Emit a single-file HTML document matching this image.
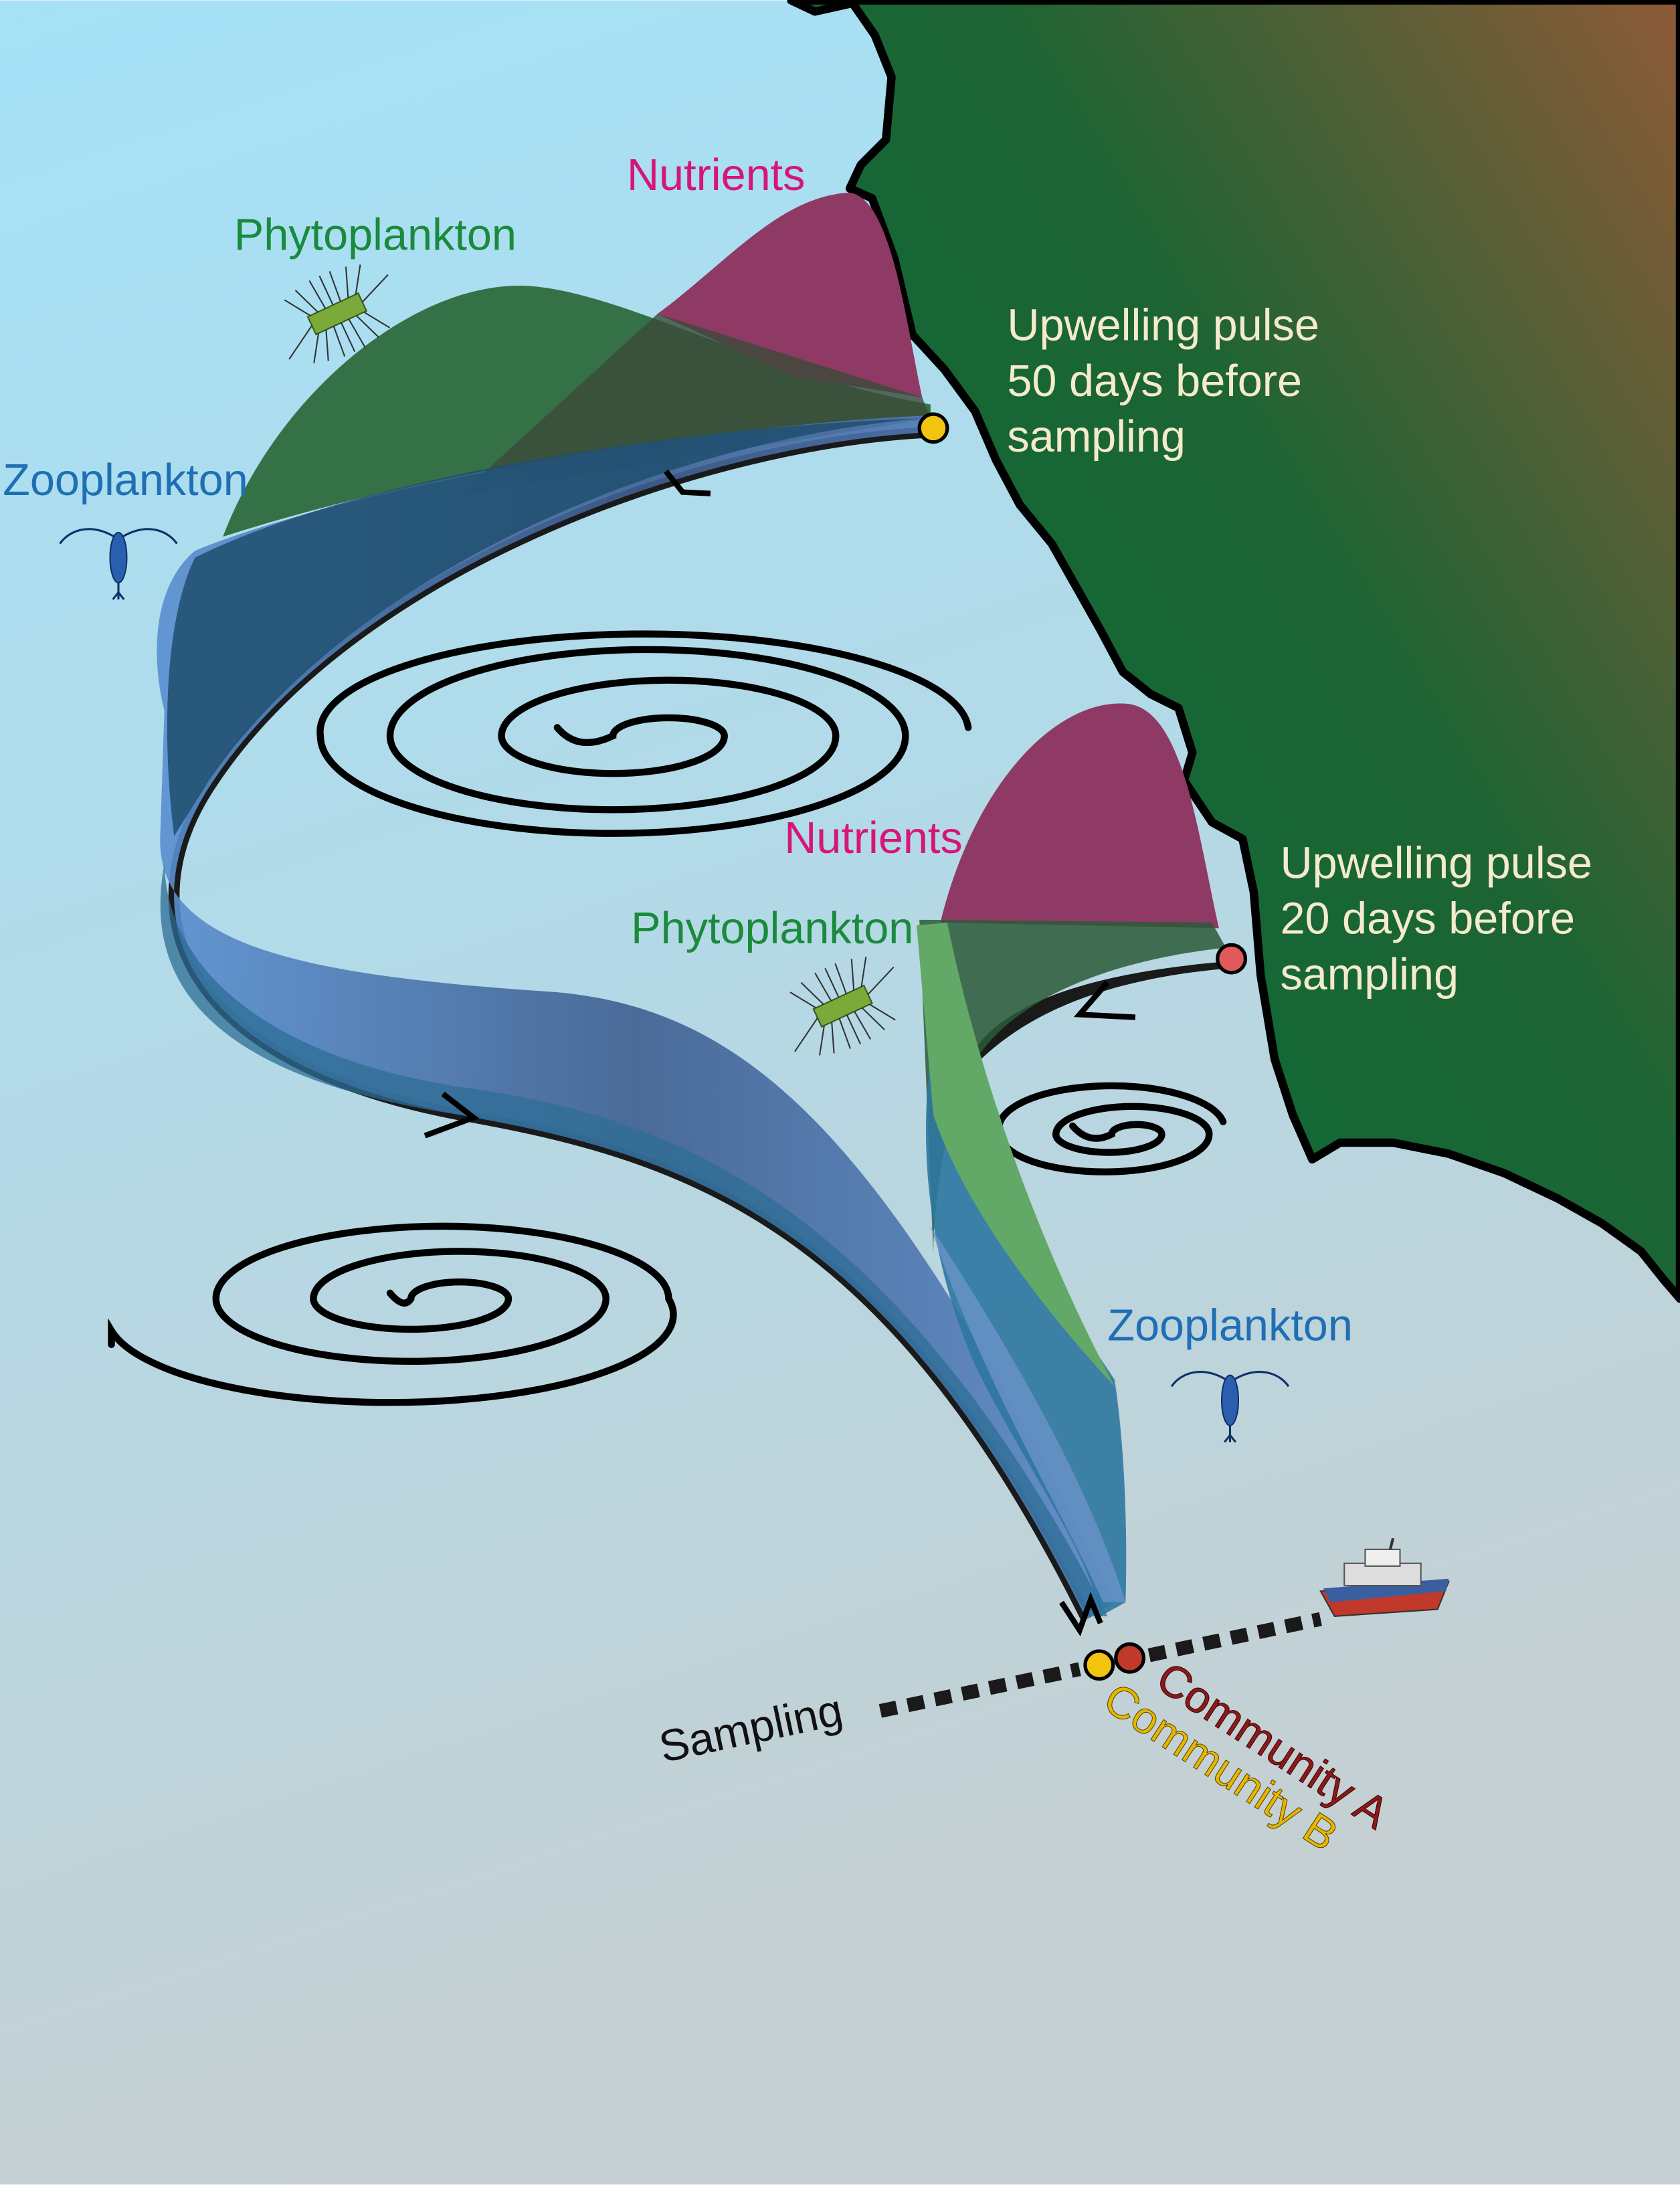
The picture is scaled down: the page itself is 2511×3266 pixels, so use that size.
<!DOCTYPE html>
<html><head><meta charset="utf-8"><style>
html,body{margin:0;padding:0;width:2511px;height:3266px;overflow:hidden}
svg{display:block}
text{font-family:"Liberation Sans",sans-serif}
</style></head><body>
<svg width="2511" height="3266" viewBox="0 0 1206 1568" xmlns="http://www.w3.org/2000/svg">
<defs>
<linearGradient id="sea" x1="0" y1="0" x2="0.25" y2="1">
<stop offset="0" stop-color="#a5e1f7"/><stop offset="0.5" stop-color="#b4d9e6"/><stop offset="1" stop-color="#c6cfd1"/></linearGradient>
<linearGradient id="land" x1="0.2" y1="0.7" x2="1" y2="0">
<stop offset="0" stop-color="#0f6a36"/><stop offset="0.45" stop-color="#1d6434"/><stop offset="1" stop-color="#8e5a38"/></linearGradient>
<linearGradient id="blue1" x1="0" y1="0" x2="1" y2="0">
<stop offset="0" stop-color="#5a8fd0"/><stop offset="0.5" stop-color="#3e5f90"/><stop offset="1" stop-color="#5a88c8"/></linearGradient>
</defs>
<rect width="1206" height="1568" fill="url(#sea)"/>
<path d="M568,0 L585,8 L612,2 L628,25 L640,55 L636,100 L618,118 L610,135 L626,142 L642,185 L655,240 L678,265 L700,295 L715,330 L732,362 L755,390 L772,420 L790,452 L806,482 L826,498 L846,508 L856,540 L850,560 L870,590 L892,602 L900,640 L905,700 L915,760 L928,800 L942,832 L962,820 L1000,820 L1040,828 L1080,842 L1118,860 L1150,878 L1178,898 L1194,918 L1206,932 L1206,0 Z" fill="url(#land)" stroke="#000" stroke-width="6" stroke-linejoin="round"/>
<g fill="none" stroke="#000" stroke-width="5" stroke-linecap="round">
<path d="M400,522 Q415,540 440,528 A40,13 0 0 1 520,528 A80,27 0 0 1 360,528 A120,40 0 0 1 600,528 A160,53 0 0 1 280,528 A185,62 0 0 1 650,528 A210,70 0 0 1 230,528 A232,70 0 0 1 695,522"/>
<path d="M280,928 Q290,940 295,932 A35,12 0 0 1 365,932 A70,22 0 0 1 225,932 A105,34 0 0 1 435,932 A140,45 0 0 1 155,932 A162.5,52 0 0 1 480,932 A200,62 0 0 1 80,955 L80,965"/>
<path d="M770,808 Q782,822 798,814 A18,7 0 0 1 834,814 A38,13 0 0 1 758,814 A55,20 0 0 1 868,814 A75,27 0 0 1 718,814 A80,30 0 0 1 878,805"/>
</g>
<path d="M668,310 C500,318 250,410 150,565 C95,650 120,760 330,800 C500,830 640,880 780,1162" fill="none" stroke="#1a1a1a" stroke-width="8"/>
<path d="M160,385 C200,280 300,200 380,205 C450,210 550,270 668,290 L668,300 C500,305 300,340 160,385 Z" fill="#2e6a3c" opacity="0.95"/>
<path d="M472,225 C520,190 560,140 610,138 C640,142 650,230 662,285 L570,270 Z" fill="#8e3a64"/>
<path d="M472,225 L662,285 L668,300 L330,355 Z" fill="#3c4a38" opacity="0.8"/>
<path d="M665,298 C500,305 250,350 140,395 C110,420 108,470 118,510 L115,600 C112,680 220,700 400,712 C540,725 640,820 800,1150 L780,1162 C640,880 500,830 330,800 C120,760 95,650 150,565 C250,410 500,318 668,310 Z" fill="url(#blue1)" opacity="0.9"/>
<path d="M665,300 C500,312 260,400 150,560 L125,600 C115,520 120,440 140,400 C260,340 500,305 665,300 Z" fill="#1e4f6e" opacity="0.85"/>
<path d="M118,620 C120,700 200,760 330,780 C480,800 640,860 795,1160 L780,1160 C640,880 500,830 330,800 C130,770 105,690 118,620 Z" fill="#2d6d95" opacity="0.75"/>
<path d="M690,775 C700,730 760,700 880,690 L880,695 C770,705 720,740 690,775 Z" fill="#1a1a1a"/>
<path d="M675,662 C700,560 760,500 810,505 C850,510 860,600 875,666 Z" fill="#8e3a64"/>
<path d="M660,660 L870,662 L880,680 C790,690 720,720 695,770 C680,800 670,860 670,900 Z" fill="#2c5a38" opacity="0.85"/>
<path d="M668,760 C660,820 665,900 700,980 C740,1060 780,1110 790,1160 L808,1150 C810,1080 805,1020 800,990 L760,930 C700,850 670,800 668,760 Z" fill="#2d77a0" opacity="0.9"/>
<path d="M658,664 L680,662 C700,760 740,880 795,985 L800,995 C740,930 690,860 670,800 Z" fill="#62a866"/>
<path d="M668,880 C700,980 760,1080 792,1150 L808,1150 C780,1060 720,960 668,880 Z" fill="#6a92c8" opacity="0.8"/>
<g fill="none" stroke="#000" stroke-width="4">
<path d="M478,338 L490,353 L510,354"/>
<path d="M318,785 L340,802 L305,815"/>
<path d="M795,705 L775,728 L815,730"/>
<path d="M762,1150 L775,1170 L783,1148 L790,1165"/>
</g>
<circle cx="670" cy="307" r="10" fill="#f1c40f" stroke="#000" stroke-width="2.5"/>
<circle cx="884" cy="688" r="10" fill="#e05a5a" stroke="#000" stroke-width="2.5"/>
<circle cx="789" cy="1195" r="10" fill="#f1c40f" stroke="#000" stroke-width="2.5"/>
<circle cx="811" cy="1190" r="10" fill="#c0392b" stroke="#000" stroke-width="2.5"/>
<path d="M632,1228 L775,1198 M825,1188 L948,1162" stroke="#1a1a1a" stroke-width="10" stroke-dasharray="12,8" fill="none"/>
<g>
<path d="M948,1142 L1040,1135 L1032,1155 L958,1160 Z" fill="#c0392b" stroke="#333" stroke-width="1"/>
<path d="M950,1140 L1040,1133 L1038,1142 L955,1150 Z" fill="#3a5fa0"/>
<rect x="965" y="1122" width="55" height="16" fill="#ddd" stroke="#555"/>
<rect x="980" y="1112" width="25" height="12" fill="#eee" stroke="#555"/>
<line x1="998" y1="1112" x2="1000" y2="1104" stroke="#333" stroke-width="2"/>
</g>
<g stroke="#333" stroke-width="1" fill="none">
<g transform="translate(242,225) rotate(-25)">
<rect x="-20" y="-7" width="40" height="14" fill="#7aaa3a" stroke="#3a5a1a"/>
<path d="M-18,-7 L-30,-25 M-12,-7 L-20,-28 M-6,-7 L-8,-30 M0,-7 L0,-30 M6,-7 L8,-30 M12,-7 L20,-28 M18,-7 L30,-25 M-18,7 L-30,25 M-12,7 L-20,28 M-6,7 L-8,30 M0,7 L0,30 M6,7 L8,30 M12,7 L20,28 M18,7 L30,25 M-20,0 L-45,15 M20,0 L45,-10"/>
</g>
<g transform="translate(605,722) rotate(-25)">
<rect x="-20" y="-7" width="40" height="14" fill="#7aaa3a" stroke="#3a5a1a"/>
<path d="M-18,-7 L-30,-25 M-12,-7 L-20,-28 M-6,-7 L-8,-30 M0,-7 L0,-30 M6,-7 L8,-30 M12,-7 L20,-28 M18,-7 L30,-25 M-18,7 L-30,25 M-12,7 L-20,28 M-6,7 L-8,30 M0,7 L0,30 M6,7 L8,30 M12,7 L20,28 M18,7 L30,25 M-20,0 L-45,15 M20,0 L45,-10"/>
</g>
<g transform="translate(85,400)">
<ellipse cx="0" cy="0" rx="6" ry="18" fill="#2a5fb0" stroke="#10306a"/>
<path d="M0,18 L0,30 M-4,30 L0,25 L4,30 M-3,-15 C-20,-25 -35,-20 -42,-10 M3,-15 C20,-25 35,-20 42,-10" stroke="#10306a" stroke-width="1.5"/>
</g>
<g transform="translate(883,1005)">
<ellipse cx="0" cy="0" rx="6" ry="18" fill="#2a5fb0" stroke="#10306a"/>
<path d="M0,18 L0,30 M-4,30 L0,25 L4,30 M-3,-15 C-20,-25 -35,-20 -42,-10 M3,-15 C20,-25 35,-20 42,-10" stroke="#10306a" stroke-width="1.5"/>
</g>
</g>
<g font-size="32">
<text x="450" y="136" fill="#d6157a">Nutrients</text>
<text x="168" y="179" fill="#1a8a3c">Phytoplankton</text>
<text x="2" y="355" fill="#1f6fb5">Zooplankton</text>
<text x="563" y="612" fill="#d6157a">Nutrients</text>
<text x="453" y="677" fill="#1a8a3c">Phytoplankton</text>
<text x="795" y="962" fill="#1f6fb5">Zooplankton</text>
<g fill="#f5ebcc">
<text x="723" y="244">Upwelling pulse</text>
<text x="723" y="284">50 days before</text>
<text x="723" y="324">sampling</text>
<text x="919" y="630">Upwelling pulse</text>
<text x="919" y="670">20 days before</text>
<text x="919" y="710">sampling</text>
</g>
<text x="476" y="1265" fill="#111" transform="rotate(-12 476 1265)">Sampling</text>
<text x="828" y="1210" fill="#8b1a1a" stroke="#3a0000" stroke-width="0.5" transform="rotate(33 828 1210)">Community A</text>
<text x="790" y="1225" fill="#e5b800" stroke="#5a4000" stroke-width="0.5" transform="rotate(33 790 1225)">Community B</text>
</g>
</svg>
</body></html>
